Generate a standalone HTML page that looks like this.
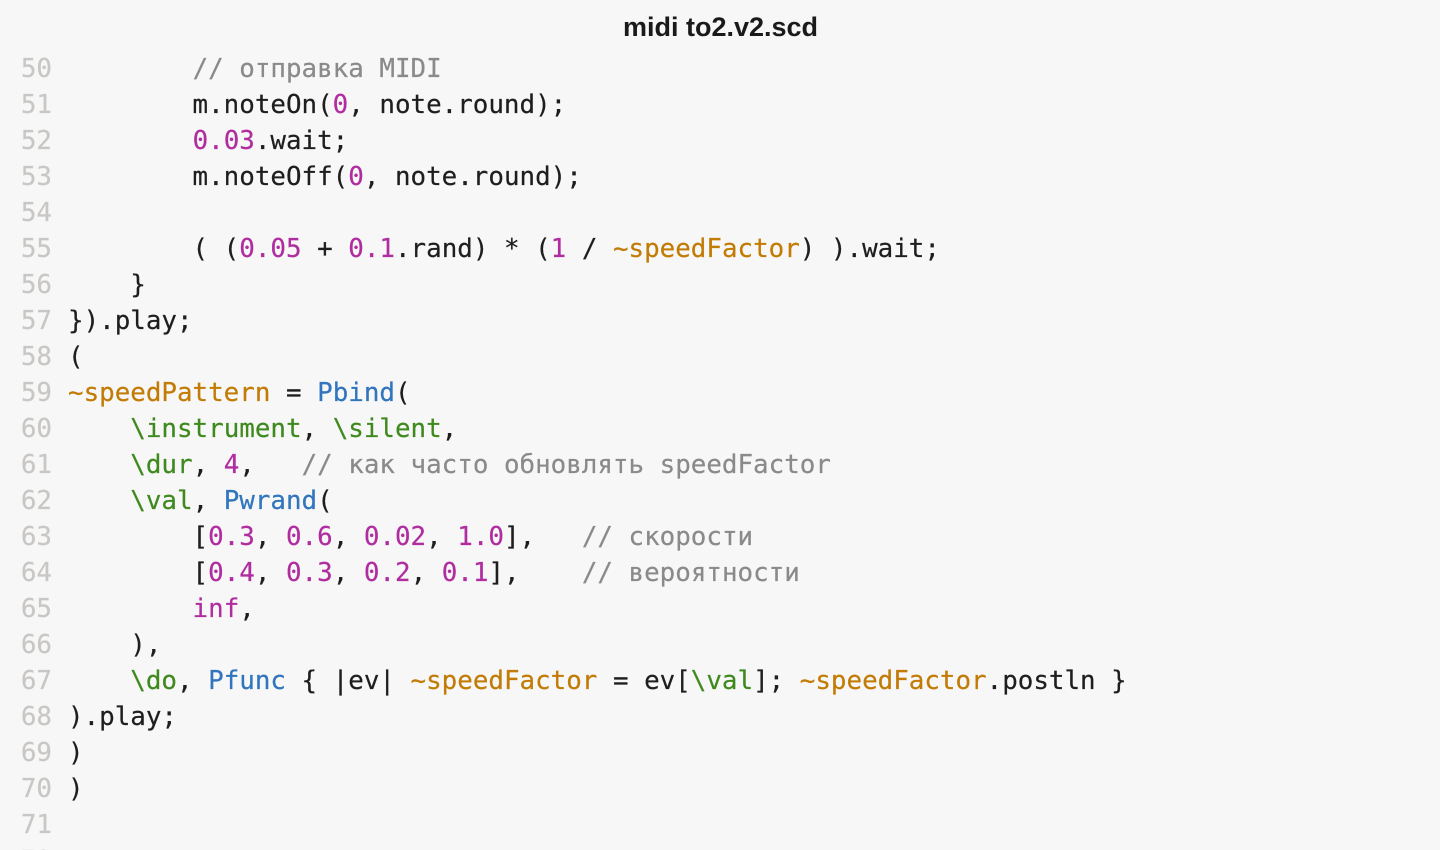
<!DOCTYPE html>
<html>
<head>
<meta charset="utf-8">
<style>
html,body{margin:0;padding:0;width:1440px;height:850px;overflow:hidden;background:#f7f7f7;}
#w{position:relative;width:1440px;height:850px;overflow:hidden;background:#f7f7f7;}
#t{position:absolute;left:0;top:10px;width:1441px;text-align:center;font:bold 27px/34px "Liberation Sans",sans-serif;color:#1a1a1a;}
.n,.l{position:absolute;height:36px;font-family:"DejaVu Sans Mono","Liberation Mono",monospace;font-size:25.87px;line-height:36px;white-space:pre;-webkit-text-stroke:.2px;}
.n{left:0;width:52px;text-align:right;color:#c9c7c4;}
.l{left:68px;color:#1e1e1e;}
.c{color:#8a8a8a}.d{color:#b02da0}.o{color:#c27c06}.b{color:#3075bd}.g{color:#3f8a1e}
</style>
</head>
<body>
<div id="w">
<div id="t">midi to2.v2.scd</div>
<div class="n" style="top:51px">50</div><div class="l" style="top:51px">        <span class="c">// отправка MIDI</span></div>
<div class="n" style="top:87px">51</div><div class="l" style="top:87px">        m.noteOn(<span class="d">0</span>, note.round);</div>
<div class="n" style="top:123px">52</div><div class="l" style="top:123px">        <span class="d">0.03</span>.wait;</div>
<div class="n" style="top:159px">53</div><div class="l" style="top:159px">        m.noteOff(<span class="d">0</span>, note.round);</div>
<div class="n" style="top:195px">54</div>
<div class="n" style="top:231px">55</div><div class="l" style="top:231px">        ( (<span class="d">0.05</span> + <span class="d">0.1</span>.rand) * (<span class="d">1</span> / <span class="o">~speedFactor</span>) ).wait;</div>
<div class="n" style="top:267px">56</div><div class="l" style="top:267px">    }</div>
<div class="n" style="top:303px">57</div><div class="l" style="top:303px">}).play;</div>
<div class="n" style="top:339px">58</div><div class="l" style="top:339px">(</div>
<div class="n" style="top:375px">59</div><div class="l" style="top:375px"><span class="o">~speedPattern</span> = <span class="b">Pbind</span>(</div>
<div class="n" style="top:411px">60</div><div class="l" style="top:411px">    <span class="g">\instrument</span>, <span class="g">\silent</span>,</div>
<div class="n" style="top:447px">61</div><div class="l" style="top:447px">    <span class="g">\dur</span>, <span class="d">4</span>,   <span class="c">// как часто обновлять speedFactor</span></div>
<div class="n" style="top:483px">62</div><div class="l" style="top:483px">    <span class="g">\val</span>, <span class="b">Pwrand</span>(</div>
<div class="n" style="top:519px">63</div><div class="l" style="top:519px">        [<span class="d">0.3</span>, <span class="d">0.6</span>, <span class="d">0.02</span>, <span class="d">1.0</span>],   <span class="c">// скорости</span></div>
<div class="n" style="top:555px">64</div><div class="l" style="top:555px">        [<span class="d">0.4</span>, <span class="d">0.3</span>, <span class="d">0.2</span>, <span class="d">0.1</span>],    <span class="c">// вероятности</span></div>
<div class="n" style="top:591px">65</div><div class="l" style="top:591px">        <span class="d">inf</span>,</div>
<div class="n" style="top:627px">66</div><div class="l" style="top:627px">    ),</div>
<div class="n" style="top:663px">67</div><div class="l" style="top:663px">    <span class="g">\do</span>, <span class="b">Pfunc</span> { |ev| <span class="o">~speedFactor</span> = ev[<span class="g">\val</span>]; <span class="o">~speedFactor</span>.postln }</div>
<div class="n" style="top:699px">68</div><div class="l" style="top:699px">).play;</div>
<div class="n" style="top:735px">69</div><div class="l" style="top:735px">)</div>
<div class="n" style="top:771px">70</div><div class="l" style="top:771px">)</div>
<div class="n" style="top:807px">71</div>
<div class="n" style="top:843px">72</div>
</div>
</body>
</html>
